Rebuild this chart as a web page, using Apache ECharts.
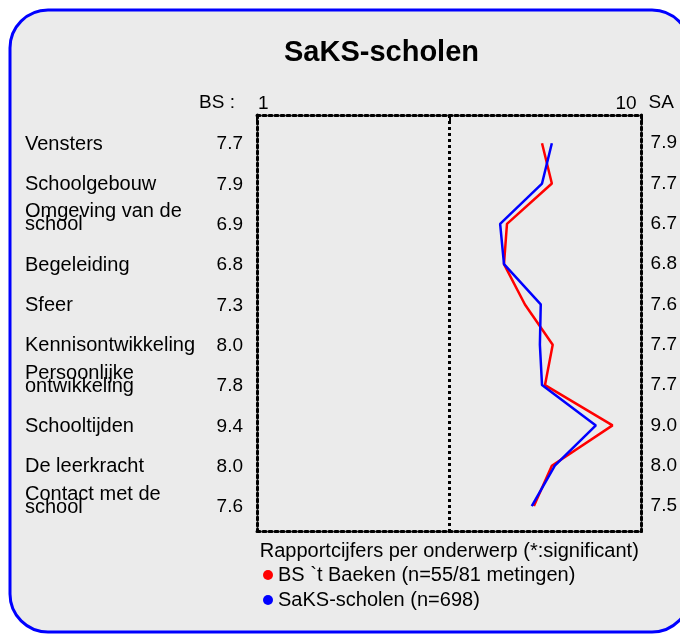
<!DOCTYPE html>
<html>
<head>
<meta charset="utf-8">
<script src="https://cdn.jsdelivr.net/npm/echarts@6/dist/echarts.min.js"></script>
<style>
  html, body {margin: 0; padding: 0; background: #fff;}
  #chart {width: 680px; height: 639px;}
</style>
</head>
<body>
<div id="chart"></div>
<script>
  //region    //data

  let categories = [
    'Vensters', 'Schoolgebouw', 'Omgeving van de\nschool', 'Begeleiding', 'Sfeer',
    'Kennisontwikkeling', 'Persoonlijke\nontwikkeling', 'Schooltijden', 'De leerkracht',
    'Contact met de\nschool'
  ];
  // cijfers zoals ze naast de grafiek staan
  let bsLabels = ['7.7', '7.9', '6.9', '6.8', '7.3', '8.0', '7.8', '9.4', '8.0', '7.6'];
  let saLabels = ['7.9', '7.7', '6.7', '6.8', '7.6', '7.7', '7.7', '9.0', '8.0', '7.5'];
  // waarden zoals de lijnen ze tekenen
  let bsValues = [7.67, 7.9, 6.85, 6.78, 7.27, 7.92, 7.74, 9.32, 7.9, 7.48];
  let saValues = [7.9, 7.67, 6.69, 6.78, 7.64, 7.62, 7.67, 8.93, 7.97, 7.43];
  let xTicks = [1, 10];
  let midValue = 5.5;
  let rows = categories.map((c, i) => i);

  //endregion

  //region    //chart

  let chart = echarts.init(document.getElementById('chart'));
  let font = 'Liberation Sans, Arial, sans-serif';
  let dotted = {color: '#000', width: 3, type: [3, 3]};

  function leftLabel(v) {
    let i = Math.round(v);
    let parts = categories[i].split('\n');
    if (parts.length === 1) {
      return '{n|' + parts[0] + '}{v|' + bsLabels[i] + '}';
    }
    return '{n|' + parts[0] + '}{v| }\n{n|' + parts[1] + '}{v|' + bsLabels[i] + '}\n{e| }';
  }

  function yAxis(side) {
    return {
      type: 'value',
      position: side,
      min: -0.7,
      max: 9.62,
      inverse: true,
      splitLine: {show: false},
      axisTick: {show: false},
      axisLine: {show: true, onZero: false, lineStyle: dotted},
      name: side === 'left' ? 'BS :' : 'SA',
      nameLocation: 'start',
      nameGap: 12,
      nameTextStyle: {
        fontFamily: font, fontSize: 19, color: '#000',
        verticalAlign: 'middle',
        align: side === 'left' ? 'right' : 'left',
        padding: side === 'left' ? [0, 22, 0, 0] : [0, 0, 0, 7]
      },
      axisLabel: side === 'left' ? {
        customValues: rows,
        margin: 14,
        formatter: leftLabel,
        rich: {
          n: {fontFamily: font, fontSize: 20, color: '#000', width: 170, align: 'left', lineHeight: 13, padding: [2, 0, 0, 0]},
          v: {fontFamily: font, fontSize: 19, color: '#000', width: 48, align: 'right', lineHeight: 13, padding: [2, 0, 0, 0]},
          e: {fontSize: 10, lineHeight: 13}
        }
      } : {
        customValues: rows,
        margin: 9,
        padding: [3, 0, 0, 0],
        fontFamily: font, fontSize: 19, color: '#000',
        formatter: v => saLabels[Math.round(v)]
      }
    };
  }

  let option = {
    backgroundColor: '#fff',
    animation: false,
    title: {
      text: 'SaKS-scholen',
      left: 284,
      top: 38,
      padding: 0,
      textStyle: {fontFamily: font, fontSize: 29, fontWeight: 'bold', color: '#000'}
    },
    graphic: [{
      type: 'rect',
      z: -10,
      shape: {x: 10, y: 10, width: 680, height: 622, r: 38},
      style: {fill: '#ebebeb', stroke: '#0000ff', lineWidth: 3}
    }],
    legend: {
      orient: 'vertical',
      left: 258,
      top: 560,
      icon: 'circle',
      itemWidth: 10,
      itemHeight: 10,
      itemGap: 5,
      textStyle: {fontFamily: font, fontSize: 20, color: '#000'},
      data: ['BS `t Baeken (n=55/81 metingen)', 'SaKS-scholen (n=698)']
    },
    grid: {left: 257, right: 37, top: 115, bottom: 108, containLabel: false},
    xAxis: [{
      type: 'value',
      position: 'top',
      min: 1,
      max: 10,
      splitLine: {show: false},
      axisLine: {show: true, onZero: false, lineStyle: dotted},
      axisTick: {show: true, inside: true, length: 6, customValues: [1, midValue, 10],
        lineStyle: {color: '#000', width: 2}},
      axisLabel: {
        customValues: xTicks,
        margin: 2,
        alignMinLabel: 'left',
        alignMaxLabel: 'right',
        padding: [0, 5, 0, 1],
        fontFamily: font, fontSize: 19, color: '#000'
      }
    }, {
      type: 'value',
      position: 'bottom',
      min: 1,
      max: 10,
      splitLine: {show: false},
      axisLine: {show: true, onZero: false, lineStyle: dotted},
      axisTick: {show: false},
      axisLabel: {show: false},
      name: 'Rapportcijfers per onderwerp (*:significant)',
      nameLocation: 'middle',
      nameGap: 10,
      nameTextStyle: {fontFamily: font, fontSize: 20, color: '#000', verticalAlign: 'top'}
    }],
    yAxis: [yAxis('left'), yAxis('right')],
    series: [{
      name: 'BS `t Baeken (n=55/81 metingen)',
      type: 'line',
      symbol: 'none',
      color: '#ff0000',
      lineStyle: {width: 2.5, color: '#ff0000'},
      data: bsValues.map((v, i) => [v, i]),
      markLine: {
        silent: true,
        symbol: 'none',
        label: {show: false},
        lineStyle: dotted,
        data: [{xAxis: midValue}]
      }
    }, {
      name: 'SaKS-scholen (n=698)',
      type: 'line',
      symbol: 'none',
      color: '#0000ff',
      lineStyle: {width: 2.5, color: '#0000ff'},
      data: saValues.map((v, i) => [v, i])
    }]
  };

  chart.setOption(option);

  //endregion
</script>
</body>
</html>
